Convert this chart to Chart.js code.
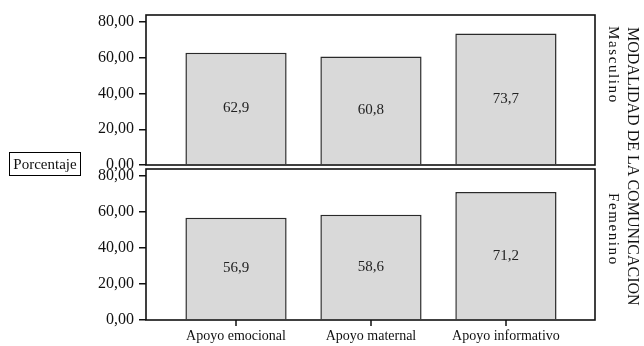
<!DOCTYPE html>
<html>

<head>
    <title>Modalidad de la comunicacion</title>
    <meta charset="utf-8">
    <script src="https://cdn.jsdelivr.net/npm/chart.js"></script>
    <style>
        body { margin: 0; background: #fff; }
        #wrap { position: relative; width: 644px; height: 346px; font-family: "Liberation Serif", "Times New Roman", serif; color: #111; }
        .layer { position: absolute; left: 0; top: 0; width: 644px; height: 346px; }
        #yTitle { position: absolute; left: 9px; top: 152px; width: 70px; height: 22px; border: 1px solid #000;
            font-size: 15px; line-height: 22px; text-align: center; }
        .side { position: absolute; writing-mode: vertical-rl; white-space: nowrap; }
        #groupTitle { left: 624px; top: 27px; font-size: 16px; line-height: 18px; }
        #lblTop { left: 605px; top: 26px; font-size: 15px; line-height: 17px; letter-spacing: 1.6px; }
        #lblBottom { left: 605px; top: 193px; font-size: 15px; line-height: 17px; letter-spacing: 1.6px; }
    </style>
</head>

<body>
    <div id="wrap">
        <div class="layer"><canvas id="topChart"></canvas></div>
        <div class="layer"><canvas id="bottomChart"></canvas></div>
        <div id="yTitle">Porcentaje</div>
        <div class="side" id="groupTitle">MODALIDAD DE LA COMUNICACION</div>
        <div class="side" id="lblTop">Masculino</div>
        <div class="side" id="lblBottom">Femenino</div>
    </div>

    <script>
        // values
        var categories = ['Apoyo emocional', 'Apoyo maternal', 'Apoyo informativo'];
        var masculino = [62.9, 60.8, 73.7];
        var femenino = [56.9, 58.6, 71.2];
        var yTicks = [0, 20, 40, 60, 80];

        Chart.defaults.font.family = '"Liberation Serif", "Times New Roman", serif';
        Chart.defaults.color = '#111';

        function comma(v, d) {
            return v.toFixed(d).replace('.', ',');
        }

        // box around each panel, plus the category tick marks under the lower panel
        var framePlugin = {
            id: 'frame',
            afterDatasetsDraw: function (chart) {
                var a = chart.chartArea;
                var ctx = chart.ctx;
                ctx.save();
                ctx.strokeStyle = '#111';
                ctx.lineWidth = 1.6;
                ctx.strokeRect(Math.round(a.left), Math.round(a.top), Math.round(a.right - a.left), Math.round(a.bottom - a.top));
                var x = chart.scales.x;
                if (x.options.display) {
                    ctx.lineWidth = 1.5;
                    ctx.beginPath();
                    x.ticks.forEach(function (t) {
                        var px = Math.round(x.getPixelForValue(t.value));
                        ctx.moveTo(px, a.bottom);
                        ctx.lineTo(px, a.bottom + 6);
                    });
                    ctx.stroke();
                }
                ctx.restore();
            }
        };

        // value printed inside each bar
        var labelPlugin = {
            id: 'barLabels',
            afterDatasetsDraw: function (chart) {
                var ctx = chart.ctx;
                var meta = chart.getDatasetMeta(0);
                var ds = chart.data.datasets[0];
                ctx.save();
                ctx.font = '15px "Liberation Serif", serif';
                ctx.fillStyle = '#222';
                ctx.textAlign = 'center';
                ctx.textBaseline = 'middle';
                meta.data.forEach(function (bar, i) {
                    ctx.fillText(comma(ds.data[i].y, 1), bar.x, (bar.y + bar.base) / 2);
                });
                ctx.restore();
            }
        };

        function makePanel(id, values, showX, pad) {
            return new Chart(document.getElementById(id), {
                type: 'bar',
                data: {
                    datasets: [{
                        data: values.map(function (v, i) { return { x: i, y: v }; }),
                        backgroundColor: '#d9d9d9',
                        borderColor: '#2a2a2a',
                        borderWidth: 1.5,
                        barPercentage: 0.75,
                        categoryPercentage: 1
                    }]
                },
                options: {
                    responsive: true,
                    maintainAspectRatio: false,
                    animation: false,
                    layout: { padding: pad },
                    plugins: { legend: { display: false }, tooltip: { enabled: false } },
                    scales: {
                        x: {
                            type: 'linear',
                            display: showX,
                            offset: false,
                            min: -0.667,
                            max: 2.66,
                            afterFit: function (s) { if (showX) s.height = 26; },
                            border: { display: false },
                            grid: { display: false },
                            ticks: {
                                stepSize: 1,
                                includeBounds: false,
                                autoSkip: false,
                                maxRotation: 0,
                                padding: 0,
                                font: { size: 14 },
                                callback: function (v) { return categories[v] || ''; }
                            }
                        },
                        y: {
                            min: 0,
                            max: 84,
                            afterFit: function (s) { s.width = 146; },
                            afterBuildTicks: function (s) { s.ticks = yTicks.map(function (v) { return { value: v }; }); },
                            border: { display: false },
                            grid: { drawOnChartArea: false, drawTicks: true, tickLength: 7, tickColor: '#111', lineWidth: 1.5 },
                            ticks: {
                                padding: 5,
                                font: { size: 16 },
                                callback: function (v) { return comma(v, 2); }
                            }
                        }
                    }
                },
                plugins: [framePlugin, labelPlugin]
            });
        }

        makePanel('topChart', masculino, false, { top: 15, right: 49, bottom: 181, left: 0 });
        makePanel('bottomChart', femenino, true, { top: 169, right: 49, bottom: 0, left: 0 });
    </script>
</body>

</html>
